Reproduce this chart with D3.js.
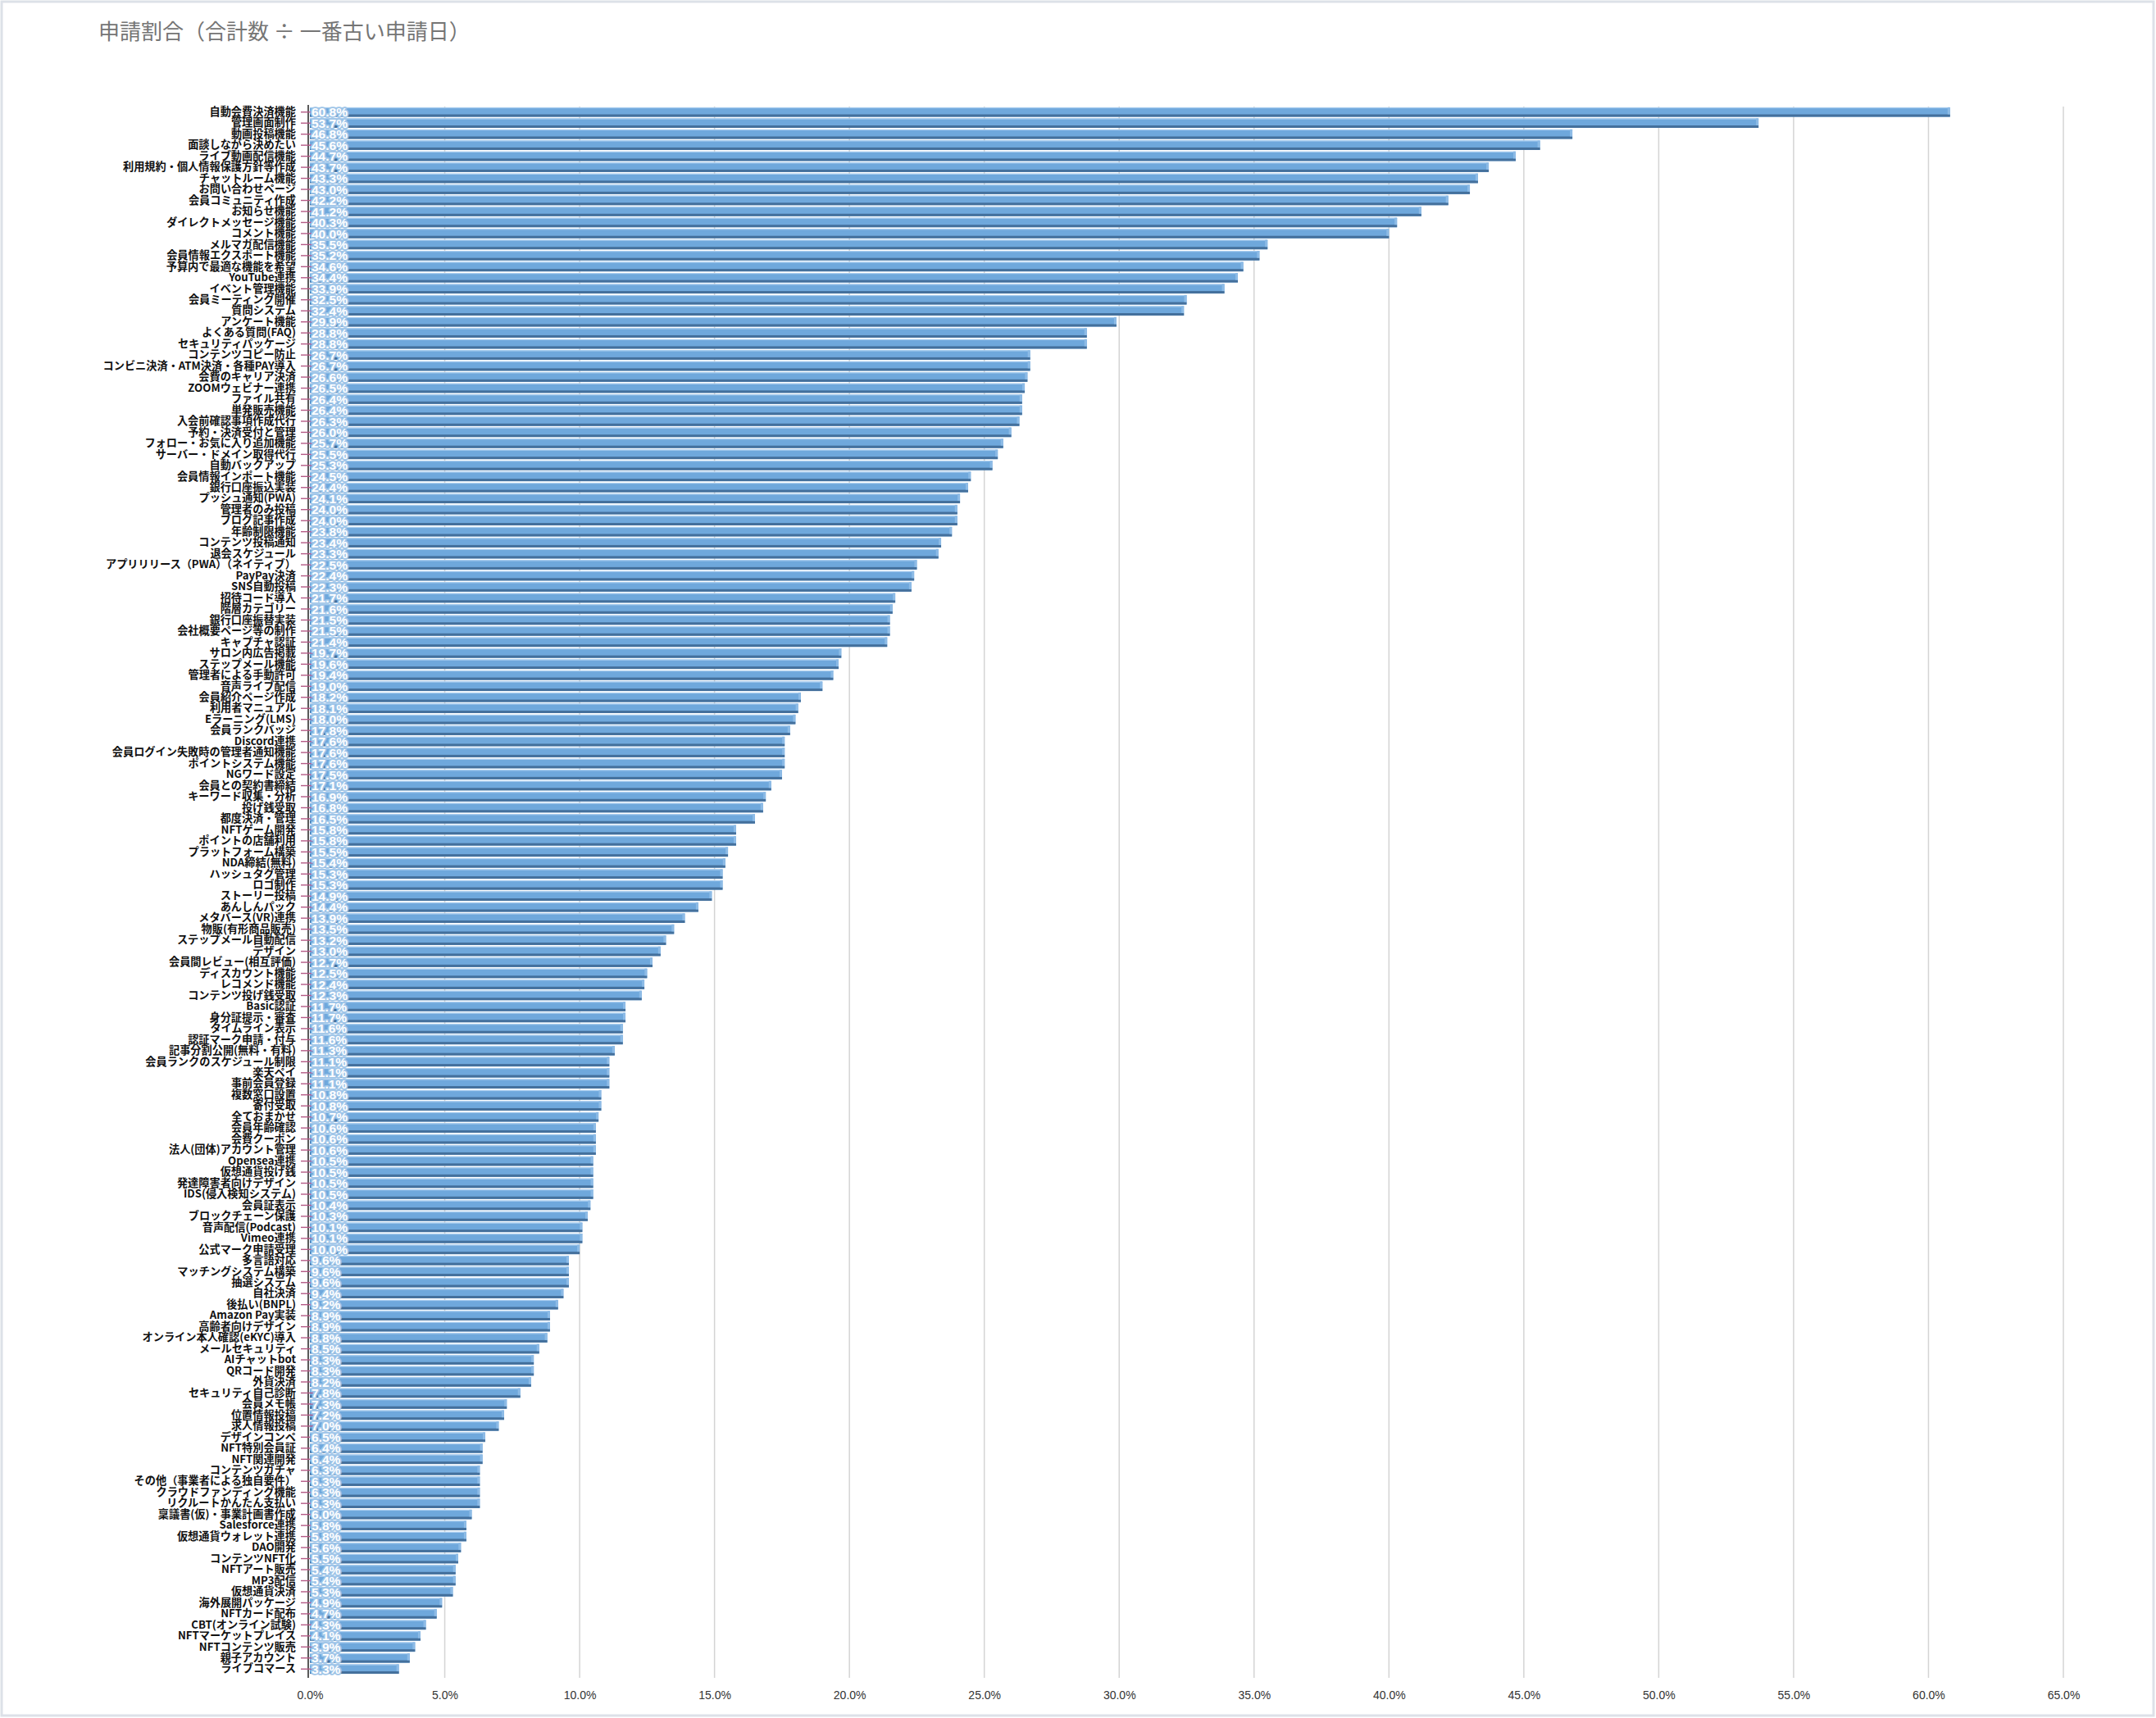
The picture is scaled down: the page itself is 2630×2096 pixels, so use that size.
<!DOCTYPE html>
<html>
<head>
<meta charset="utf-8">
<script src="https://cdn.jsdelivr.net/npm/d3@7"></script>
<style>
  html, body { margin: 0; padding: 0; background: #fff; }
  svg { display: block; }
</style>
</head>
<body>
<div id="chart"></div>
<script>
// 機能ごとの申請割合（%）
const categories = [
  "自動会費決済機能", "管理画面制作", "動画投稿機能", "面談しながら決めたい", "ライブ動画配信機能",
  "利用規約・個人情報保護方針等作成", "チャットルーム機能", "お問い合わせページ", "会員コミュニティ作成", "お知らせ機能",
  "ダイレクトメッセージ機能", "コメント機能", "メルマガ配信機能", "会員情報エクスポート機能", "予算内で最適な機能を希望",
  "YouTube連携", "イベント管理機能", "会員ミーティング開催", "質問システム", "アンケート機能",
  "よくある質問(FAQ)", "セキュリティパッケージ", "コンテンツコピー防止", "コンビニ決済・ATM決済・各種PAY導入", "会費のキャリア決済",
  "ZOOMウェビナー連携", "ファイル共有", "単発販売機能", "入会前確認事項作成代行", "予約・決済受付と管理",
  "フォロー・お気に入り追加機能", "サーバー・ドメイン取得代行", "自動バックアップ", "会員情報インポート機能", "銀行口座振込実装",
  "プッシュ通知(PWA)", "管理者のみ投稿", "ブログ記事作成", "年齢制限機能", "コンテンツ投稿通知",
  "退会スケジュール", "アプリリリース（PWA）（ネイティブ）", "PayPay決済", "SNS自動投稿", "招待コード導入",
  "階層カテゴリー", "銀行口座振替実装", "会社概要ページ等の制作", "キャプチャ認証", "サロン内広告掲載",
  "ステップメール機能", "管理者による手動許可", "音声ライブ配信", "会員紹介ページ作成", "利用者マニュアル",
  "Eラーニング(LMS)", "会員ランクバッジ", "Discord連携", "会員ログイン失敗時の管理者通知機能", "ポイントシステム機能",
  "NGワード設定", "会員との契約書締結", "キーワード収集・分析", "投げ銭受取", "都度決済・管理",
  "NFTゲーム開発", "ポイントの店舗利用", "プラットフォーム構築", "NDA締結(無料)", "ハッシュタグ管理",
  "ロゴ制作", "ストーリー投稿", "あんしんパック", "メタバース(VR)連携", "物販(有形商品販売)",
  "ステップメール自動配信", "デザイン", "会員間レビュー(相互評価)", "ディスカウント機能", "レコメンド機能",
  "コンテンツ投げ銭受取", "Basic認証", "身分証提示・審査", "タイムライン表示", "認証マーク申請・付与",
  "記事分割公開(無料・有料)", "会員ランクのスケジュール制限", "楽天ペイ", "事前会員登録", "複数窓口設置",
  "寄付受取", "全ておまかせ", "会員年齢確認", "会費クーポン", "法人(団体)アカウント管理",
  "Opensea連携", "仮想通貨投げ銭", "発達障害者向けデザイン", "IDS(侵入検知システム)", "会員証表示",
  "ブロックチェーン保護", "音声配信(Podcast)", "Vimeo連携", "公式マーク申請受理", "多言語対応",
  "マッチングシステム構築", "抽選システム", "自社決済", "後払い(BNPL)", "Amazon Pay実装",
  "高齢者向けデザイン", "オンライン本人確認(eKYC)導入", "メールセキュリティ", "AIチャットbot", "QRコード開発",
  "外貨決済", "セキュリティ自己診断", "会員メモ帳", "位置情報投稿", "求人情報投稿",
  "デザインコンペ", "NFT特別会員証", "NFT関連開発", "コンテンツガチャ", "その他（事業者による独自要件）",
  "クラウドファンディング機能", "リクルートかんたん支払い", "稟議書(仮)・事業計画書作成", "Salesforce連携", "仮想通貨ウォレット連携",
  "DAO開発", "コンテンツNFT化", "NFTアート販売", "MP3配信", "仮想通貨決済",
  "海外展開パッケージ", "NFTカード配布", "CBT(オンライン試験)", "NFTマーケットプレイス", "NFTコンテンツ販売",
  "親子アカウント", "ライブコマース"
];

const values = [
  60.8, 53.7, 46.8, 45.6, 44.7, 43.7, 43.3, 43.0, 42.2, 41.2,
  40.3, 40.0, 35.5, 35.2, 34.6, 34.4, 33.9, 32.5, 32.4, 29.9,
  28.8, 28.8, 26.7, 26.7, 26.6, 26.5, 26.4, 26.4, 26.3, 26.0,
  25.7, 25.5, 25.3, 24.5, 24.4, 24.1, 24.0, 24.0, 23.8, 23.4,
  23.3, 22.5, 22.4, 22.3, 21.7, 21.6, 21.5, 21.5, 21.4, 19.7,
  19.6, 19.4, 19.0, 18.2, 18.1, 18.0, 17.8, 17.6, 17.6, 17.6,
  17.5, 17.1, 16.9, 16.8, 16.5, 15.8, 15.8, 15.5, 15.4, 15.3,
  15.3, 14.9, 14.4, 13.9, 13.5, 13.2, 13.0, 12.7, 12.5, 12.4,
  12.3, 11.7, 11.7, 11.6, 11.6, 11.3, 11.1, 11.1, 11.1, 10.8,
  10.8, 10.7, 10.6, 10.6, 10.6, 10.5, 10.5, 10.5, 10.5, 10.4,
  10.3, 10.1, 10.1, 10.0, 9.6, 9.6, 9.6, 9.4, 9.2, 8.9,
  8.9, 8.8, 8.5, 8.3, 8.3, 8.2, 7.8, 7.3, 7.2, 7.0,
  6.5, 6.4, 6.4, 6.3, 6.3, 6.3, 6.3, 6.0, 5.8, 5.8,
  5.6, 5.5, 5.4, 5.4, 5.3, 4.9, 4.7, 4.3, 4.1, 3.9,
  3.7, 3.3
];

const xTicks = [0, 5, 10, 15, 20, 25, 30, 35, 40, 45, 50, 55, 60, 65];
const title = "申請割合（合計数 ÷ 一番古い申請日）";

const W = 2630, H = 2096;
const plot = { left: 378, right: 2517, top: 130, bottom: 2043 };

const svg = d3.select("#chart").append("svg")
    .attr("width", W)
    .attr("height", H);

// 枠線
svg.append("rect")
    .attr("x", 2).attr("y", 2)
    .attr("width", W - 5).attr("height", H - 5)
    .attr("fill", "#fff")
    .attr("stroke", "#dde1e8")
    .attr("stroke-width", 3);

// タイトル
svg.append("text")
    .attr("x", 120)
    .attr("y", 48)
    .attr("fill", "#757575")
    .style("font-family", "'Noto Sans CJK JP', sans-serif")
    .style("font-size", "26px")
    .text(title);

const x = d3.scaleLinear().domain([0, 65]).range([plot.left, plot.right]);
const y = d3.scaleBand().domain(categories).range([plot.top, plot.bottom]).paddingInner(0.14).paddingOuter(0.07);

// グリッド線
svg.append("g")
  .selectAll("line")
  .data(xTicks.slice(1))
  .join("line")
    .attr("x1", d => x(d)).attr("x2", d => x(d))
    .attr("y1", plot.top).attr("y2", plot.bottom + 4)
    .attr("stroke", "#d4d4d4")
    .attr("stroke-width", 1.5);

// X軸ラベル
const xAxis = d3.axisBottom(x)
    .tickValues(xTicks)
    .tickFormat(d => d.toFixed(1) + "%")
    .tickSize(0)
    .tickPadding(14);

const gx = svg.append("g")
    .attr("transform", `translate(0,${plot.bottom + 6})`)
    .call(xAxis);
gx.select(".domain").remove();
gx.selectAll("text")
    .attr("fill", "#333")
    .style("font-family", "'Liberation Sans', Arial, sans-serif")
    .style("font-size", "14px");

// バー（立体風）
const bh = y.bandwidth();
const bars = svg.append("g")
  .selectAll("g")
  .data(categories.map((c, i) => ({ c, v: values[i] })))
  .join("g")
    .attr("transform", d => `translate(0,${y(d.c)})`);

bars.append("rect")
    .attr("x", x(0))
    .attr("y", 0)
    .attr("width", d => x(d.v) - x(0))
    .attr("height", bh)
    .attr("fill", "#6fa8dc");

bars.append("rect")
    .attr("x", x(0))
    .attr("y", bh - 3)
    .attr("width", d => x(d.v) - x(0))
    .attr("height", 3)
    .attr("fill", "#44709c");

bars.append("rect")
    .attr("x", x(0))
    .attr("y", 0)
    .attr("width", d => x(d.v) - x(0))
    .attr("height", 1.2)
    .attr("fill", "#a9cdef");

bars.append("rect")
    .attr("x", d => x(d.v) - 3)
    .attr("y", 0)
    .attr("width", 3)
    .attr("height", bh - 3)
    .attr("fill", "#8dbbe6");

// Y軸
svg.append("line")
    .attr("x1", plot.left - 2).attr("x2", plot.left - 2)
    .attr("y1", plot.top - 2).attr("y2", plot.bottom + 4)
    .attr("stroke", "#222")
    .attr("stroke-width", 1.5);

const yAxis = d3.axisLeft(y).tickSize(0).tickPadding(17);
const gy = svg.append("g")
    .attr("transform", `translate(${plot.left},0)`)
    .call(yAxis);
gy.select(".domain").remove();
gy.selectAll("text")
    .attr("fill", "#111")
    .style("font-family", "'Noto Sans CJK JP', sans-serif")
    .style("font-weight", "700")
    .style("font-size", "13.2px");

// 目盛り（ピンク）
svg.append("g")
  .selectAll("line")
  .data(categories)
  .join("line")
    .attr("x1", plot.left - 11).attr("x2", plot.left + 5)
    .attr("y1", d => y(d) + bh / 2).attr("y2", d => y(d) + bh / 2)
    .attr("stroke", "#b45a86")
    .attr("stroke-width", 1.4);

// 値ラベル
svg.append("g")
  .selectAll("text")
  .data(categories.map((c, i) => ({ c, v: values[i] })))
  .join("text")
    .attr("x", plot.left + 2)
    .attr("y", d => y(d.c) + bh / 2)
    .attr("dy", "0.36em")
    .attr("fill", "#fff")
    .attr("stroke", "#9fc5e8")
    .attr("stroke-width", 3.5)
    .attr("stroke-linejoin", "round")
    .attr("paint-order", "stroke")
    .style("font-family", "'Liberation Sans', Arial, sans-serif")
    .style("font-weight", "700")
    .style("font-size", "15.5px")
    .text(d => d.v.toFixed(1) + "%");
</script>
</body>
</html>
